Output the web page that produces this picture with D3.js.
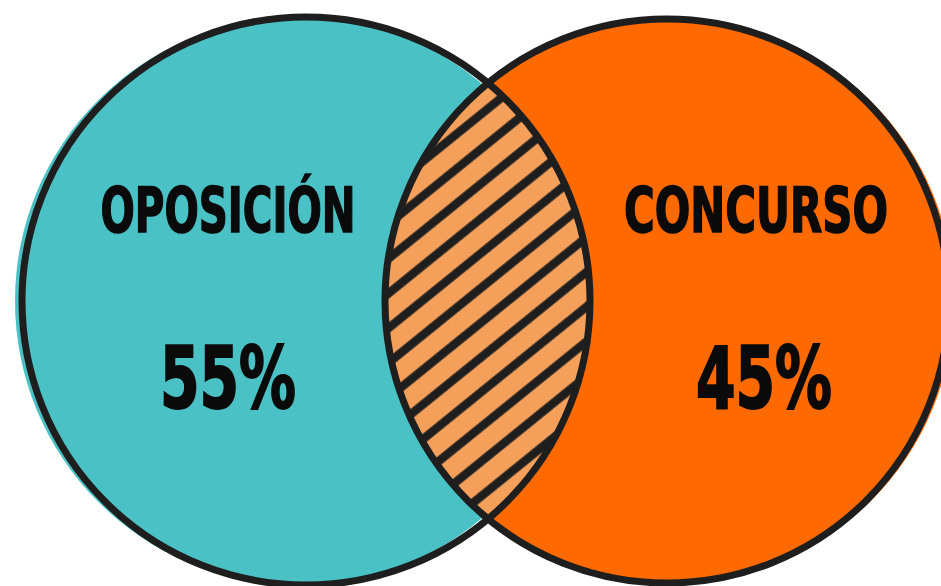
<!DOCTYPE html>
<html>
<head>
<meta charset="utf-8">
<script src="https://cdn.jsdelivr.net/npm/d3@7"></script>
<style>
  body { margin: 0; background: #fff; }
  svg { display: block; }
</style>
</head>
<body>
<svg id="chart" width="941" height="586"></svg>
<script>
// the two sets of the venn and their shares
const categories = ["OPOSICIÓN", "CONCURSO"];
const shares = [55, 45];
const fillColors = ["#4AC2C5", "#FF6A00"];
const overlapColor = "#F5A05A";

const width = 941, height = 586;
const svg = d3.select("#chart");

// centres of the two circles come from a point scale over the categories
const x = d3.scalePoint().domain(categories).range([306, 667]);
const radius = d3.scaleOrdinal().domain(categories).range([284, 282]);
const cy = 301;
// fills are drawn a little off the outline, like a hand drawn sketch
const fillShift = d3.scaleOrdinal().domain(categories).range([-7, 5]);

const sets = categories.map((c, i) => ({ name: c, share: shares[i], color: fillColors[i] }));

const defs = svg.append("defs");

// hatch for the overlapping part
const step = 27;
const pat = defs.append("pattern")
    .attr("id", "hatch")
    .attr("patternUnits", "userSpaceOnUse")
    .attr("width", step)
    .attr("height", step)
    .attr("patternTransform", "rotate(-39)");
pat.append("rect").attr("width", step).attr("height", step).attr("fill", overlapColor);
pat.append("line")
    .attr("x1", 0).attr("x2", step)
    .attr("y1", step / 2).attr("y2", step / 2)
    .attr("stroke", "#1e1e1e")
    .attr("stroke-width", 8.5);

// clip = right circle, used on a copy of the left circle -> lens
defs.append("clipPath")
    .attr("id", "clip-right")
    .append("circle")
    .attr("cx", x(categories[1]))
    .attr("cy", cy)
    .attr("r", radius(categories[1]));

// fills
svg.selectAll("circle.fill")
    .data(sets)
    .join("circle")
    .attr("class", "fill")
    .attr("cx", d => x(d.name) + fillShift(d.name))
    .attr("cy", cy)
    .attr("r", d => radius(d.name))
    .attr("fill", d => d.color);

// overlap with hatching
svg.append("circle")
    .attr("cx", x(categories[0]))
    .attr("cy", cy)
    .attr("r", radius(categories[0]))
    .attr("clip-path", "url(#clip-right)")
    .attr("fill", "url(#hatch)");

// outlines
svg.selectAll("circle.outline")
    .data(sets)
    .join("circle")
    .attr("class", "outline")
    .attr("cx", d => x(d.name))
    .attr("cy", cy)
    .attr("r", d => radius(d.name))
    .attr("fill", "none")
    .attr("stroke", "#1e1e1e")
    .attr("stroke-width", 7);

// labels
const labelX = d3.scaleOrdinal().domain(categories).range([228, 756]);
const labelLen = d3.scaleOrdinal().domain(categories).range([255, 264]);
const valueX = d3.scaleOrdinal().domain(categories).range([228, 764]);

const font = "'DejaVu Sans Condensed', 'Liberation Sans Narrow', 'Roboto', sans-serif";

svg.selectAll("text.name")
    .data(sets)
    .join("text")
    .attr("class", "name")
    .attr("x", d => labelX(d.name))
    .attr("y", 232)
    .attr("text-anchor", "middle")
    .attr("font-family", font)
    .attr("font-weight", "bold")
    .attr("font-size", 62)
    .attr("textLength", d => labelLen(d.name))
    .attr("lengthAdjust", "spacingAndGlyphs")
    .attr("fill", "#0a0a0a")
    .attr("stroke", "#0a0a0a")
    .attr("stroke-width", 1.5)
    .text(d => d.name);

svg.selectAll("text.share")
    .data(sets)
    .join("text")
    .attr("class", "share")
    .attr("x", d => valueX(d.name))
    .attr("y", 408)
    .attr("text-anchor", "middle")
    .attr("font-family", font)
    .attr("font-weight", "bold")
    .attr("font-size", 86)
    .attr("textLength", 136)
    .attr("lengthAdjust", "spacingAndGlyphs")
    .attr("fill", "#0a0a0a")
    .attr("stroke", "#0a0a0a")
    .attr("stroke-width", 2)
    .text(d => d.share + "%");
</script>
</body>
</html>
